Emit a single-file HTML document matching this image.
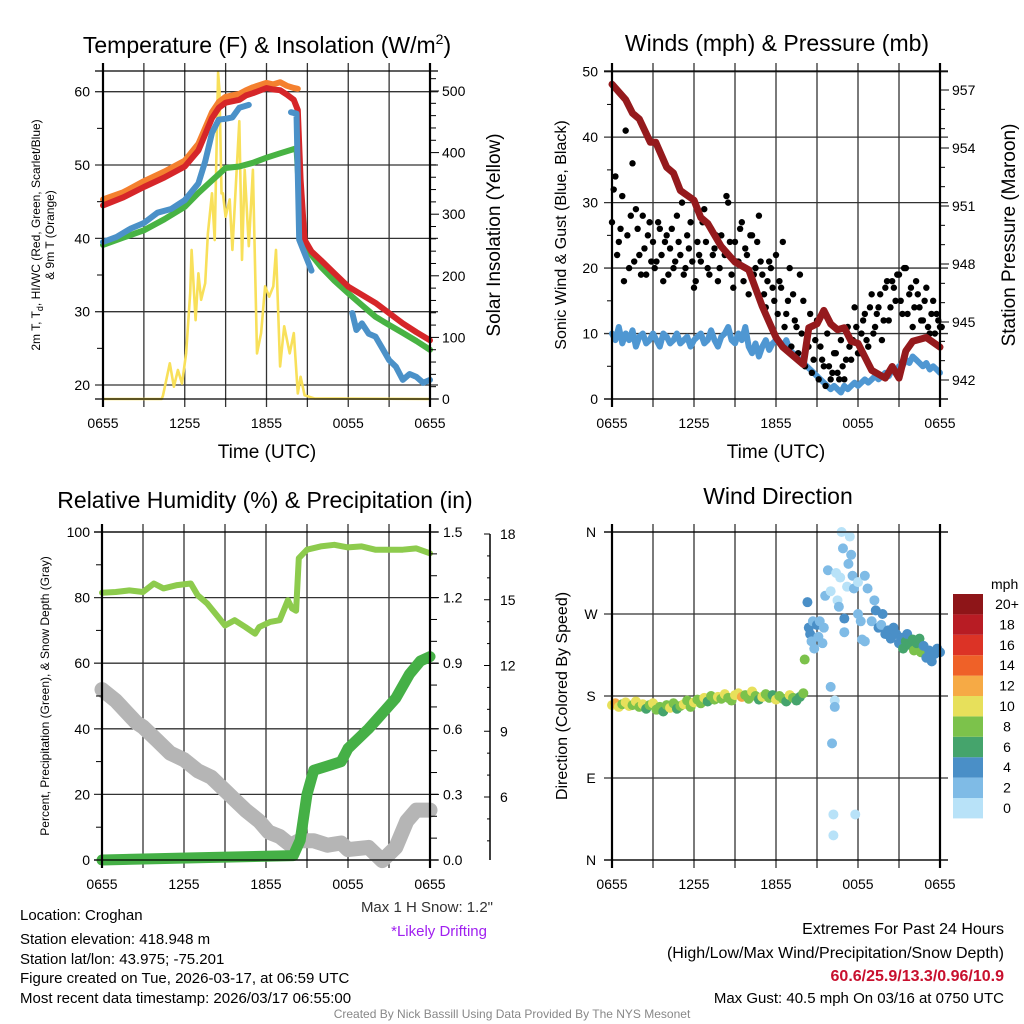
<!DOCTYPE html>
<html><head><meta charset="utf-8"><style>
html,body{margin:0;padding:0;background:#fff}
svg{display:block;font-family:"Liberation Sans",Arial,sans-serif}
</style></head><body>
<svg id="s" width="1024" height="1024" viewBox="0 0 1024 1024" xmlns="http://www.w3.org/2000/svg">
<g id="grid"></g><g id="marks"></g><g id="axes"></g>
<g font-size="23" text-anchor="middle" fill="#000">
<text x="267" y="53">Temperature (F) &amp; Insolation (W/m<tspan font-size="14" dy="-9">2</tspan><tspan dy="9">)</tspan></text>
<text x="777" y="51">Winds (mph) &amp; Pressure (mb)</text>
<text x="265" y="508">Relative Humidity (%) &amp; Precipitation (in)</text>
<text x="778" y="504">Wind Direction</text>
</g>
<g font-size="19" text-anchor="middle">
<text x="267" y="458">Time (UTC)</text>
<text x="776" y="458">Time (UTC)</text>
<text transform="translate(500,235) rotate(-90)">Solar Insolation (Yellow)</text>
<text transform="translate(1015,235) rotate(-90)">Station Pressure (Maroon)</text>
</g>
<g font-size="16" text-anchor="middle">
<text transform="translate(566,235) rotate(-90)">Sonic Wind &amp; Gust (Blue, Black)</text>
<text transform="translate(567,696) rotate(-90)">Direction (Colored By Speed)</text>
</g>
<g font-size="12" text-anchor="middle">
<text transform="translate(40,235) rotate(-90)">2m T, T<tspan font-size="9" dy="3">d</tspan><tspan dy="-3">, HI/WC (Red, Green, Scarlet/Blue)</tspan></text>
<text transform="translate(54,235) rotate(-90)">&amp; 9m T (Orange)</text>
<text transform="translate(49,696) rotate(-90)">Percent, Precipitation (Green), &amp; Snow Depth (Gray)</text>
</g>
<g font-size="15" fill="#000">
<text x="20" y="920">Location: Croghan</text>
<text x="20" y="944">Station elevation: 418.948 m</text>
<text x="20" y="964">Station lat/lon: 43.975; -75.201</text>
<text x="20" y="983">Figure created on Tue, 2026-03-17, at 06:59 UTC</text>
<text x="20" y="1003">Most recent data timestamp: 2026/03/17 06:55:00</text>
<text x="493" y="912" text-anchor="end" fill="#333">Max 1 H Snow: 1.2"</text>
<text x="487" y="936" text-anchor="end" fill="#a020f0">*Likely Drifting</text>
<text x="1004" y="934" text-anchor="end" font-size="16">Extremes For Past 24 Hours</text>
<text x="1004" y="958" text-anchor="end" font-size="16">(High/Low/Max Wind/Precipitation/Snow Depth)</text>
<text x="1004" y="981" text-anchor="end" font-size="16" font-weight="bold" fill="#c8102e">60.6/25.9/13.3/0.96/10.9</text>
<text x="1004" y="1003" text-anchor="end">Max Gust: 40.5 mph On 03/16 at 0750 UTC</text>
<text x="512" y="1018" text-anchor="middle" font-size="12" fill="#888">Created By Nick Bassill Using Data Provided By The NYS Mesonet</text>
</g>
<g id="legend"></g>
</svg>
<script>
// ---- Temperature panel data ----
const redH=[0,1.5,3,4.5,6,7,8,8.5,9,10,10.5,11,12,12.5,13,13.5,14,14.3,14.5,14.8,15.3,16,17,18,19,20,21,22,23,24];
const redT=[44.5,45.6,47,48.3,49.8,52,56.4,57.8,58.5,58.9,59.5,59.8,60.5,60.3,60.2,59.6,58.9,57.5,48,39.8,38.2,37,35.2,33.4,32.3,31.2,29.8,28.4,27.2,26.1];
const orgH=[0,1.5,3,4.5,6,7,8,8.5,9,10,10.5,11,12,12.5,13,13.5,14,14.3];
const orgT=[45.3,46.3,47.8,49.1,50.6,52.9,57.2,58.6,59.3,59.7,60.2,60.6,61.2,61.0,61.3,60.8,60.5,60.4];
const grnH=[0,1.5,3,4.5,6,7,8,9,10,11,12,13,14.2,14.4,14.6,14.8,16,17,18,19,20,21,22,23,24];
const grnT=[39.1,40.1,41.1,42.6,44.3,46.2,47.9,49.6,49.8,50.3,51,51.6,52.3,46,40.5,38.9,36.1,34.2,32.5,30.9,29.3,28.2,27.1,26,24.8];
const bluH=[0,1,2,3,4,5,6,7,7.5,8,8.5,9,9.5,10,10.7,null,13.8,14.2,14.4,15,15.3,null,18.3,18.6,19,19.5,20,20.5,21,21.5,22,22.5,23,23.5,24];
const bluT=[39.5,40.2,41.3,42.1,43.5,44,45.2,47.5,50.5,54.4,56.2,56.3,56.5,57.8,58.2,null,57.2,57,39.8,37,35.6,null,29.8,27.5,28.4,27,26.6,25,23.4,22.5,20.7,21.5,21.1,20.3,20.7];
const solH=[0,4.3,4.4,4.9,5.2,5.5,5.8,6.1,6.4,6.5,6.8,7,7.2,7.5,7.7,8,8.2,8.45,8.55,8.7,8.8,9,9.3,9.5,9.8,10,10.2,10.4,10.7,11,11.3,11.6,11.9,12.2,12.5,12.7,13,13.3,13.7,14,14.3,14.5,14.8,15.5,24];
const solW=[0,0,5,58,20,47,25,74,172,242,128,204,161,188,269,334,258,530,500,334,334,296,324,242,367,451,226,372,248,372,74,107,183,166,183,242,53,118,74,107,9,36,6,1,0];
// ---- Wind panel data ----
const wHours=[];for(let i=0;i<=96;i++)wHours.push(i*0.25);
const gusts=[27,34,24,31,41,20,36,29,22,28,19,27,24,21,26,18,25,23,20,28,22,19,25,27,17,24,21,29,20,26,23,18,25,22,30,19,24,21,27,23,16,25,20,28,19,14,21,17,22,18,24,13,20,16,11,19,15,9,13,6,12,8,5,10,3,7,4,9,3,11,6,14,7,10,13,8,16,11,14,9,17,12,18,15,19,13,20,16,11,18,14,12,17,10,15,13,11];
const gusts2=[32,22,26,18,25,28,21,26,19,23,25,21,20,27,22,24,19,26,21,24,30,20,23,21,18,22,27,24,19,22,25,20,23,31,24,17,21,26,18,22,25,19,24,21,16,18,20,15,13,17,11,15,8,12,7,10,5,8,4,9,3,6,2,5,4,7,3,5,6,8,9,11,7,12,9,14,10,13,16,12,18,14,17,19,15,20,13,17,14,16,12,15,11,13,10,12,11];
const wind=[10,9,11,8.5,10,9,10.5,8,9.5,10,8.5,9,10,9,8,10,9.5,8.5,9,10,8.5,9,9.5,8,9,9.5,10,8.5,9,10.5,9,8,9.5,10,11,9,8.5,10,9,11,8,7,8.5,6.5,8,9,7.5,8.5,9,8.5,8,9,7.5,7,6.5,6,5.5,5,4.5,4,3.5,3,2.5,2,1.5,2,1.5,1,2,1.5,2,2.5,2,2.5,3,2.5,3,3.5,3,3.5,4,3.5,4.5,4,5,5,6,5.5,6.5,6,5.5,5,5.5,4.5,5,4.5,4];
const presH=[0,1,1.5,2,2.8,3.2,4,4.5,5,6,6.5,7,8,9,10,11,12,12.5,13,14,14.4,15,15.5,16,16.5,17,17.5,18,19,20,20.5,21,21.5,22,23,24];
const pres=[957.3,956.5,955.8,955.5,954.3,954.3,953.0,952.7,951.8,951.3,950.4,950.1,948.9,948.1,947.7,945.8,944.2,943.7,943.4,942.8,944.7,944.9,945.6,944.9,944.6,944.7,944.0,943.9,942.5,942.1,942.7,942.1,943.5,944.0,944.2,943.7];
// ---- RH panel data ----
const rhH=[0,1,2,3,3.8,4.5,5.5,6.5,7,7.7,8.5,9,9.7,10.5,11.2,11.5,12.3,13,13.6,13.9,14.2,14.4,15,16,17,18,19,20,21,22,23,24];
const rh=[81.5,81.7,82.2,81.7,84.3,82.8,83.8,84.3,80.7,78.2,74.1,71.5,73.1,71,69,71,72.6,73.1,79.2,76.7,76,92,94.6,95.6,96.1,95.3,95.6,94.6,94.6,94.6,95,93.5];
const prH=[0,7,14,14.5,14.6,15,15.5,16.5,17.5,18,18.5,19.5,20.5,21.5,22.5,23.3,24];
const precip=[0,0.01,0.02,0.09,0.13,0.3,0.41,0.43,0.45,0.51,0.54,0.6,0.67,0.74,0.85,0.91,0.93];
const snH=[0,1,2.5,3,4,5,6,7,8,9,10,10.5,11.5,12.2,13,13.8,14.4,15.5,16.5,17.5,18,19.5,20.5,21.5,22.3,23,24];
const snow=[10.9,10.4,9.4,9.2,8.6,8.0,7.7,7.2,6.9,6.3,5.7,5.4,4.9,4.4,4.2,3.8,4.0,4.0,3.8,3.9,3.6,3.7,3.1,3.7,4.9,5.4,5.4];
// ---- Direction panel data ----
const dirH=[];for(let i=0;i<=56;i++)dirH.push(i*0.25);
const dirDeg=[170,172,168,171,173,169,170,174,168,171,166,170,172,165,168,163,170,167,172,166,169,171,175,168,173,176,172,178,174,180,176,179,177,182,178,175,181,183,179,181,177,185,180,176,179,182,178,181,176,180,177,174,181,178,175,179,183];
const dirSpd=[11,12,10,9,11,10,8,10,9,11,7,9,10,9,8,6,9,10,8,7,9,10,8,9,11,8,9,10,7,9,8,10,9,11,8,9,10,10,12,9,8,11,9,6,10,8,9,7,10,9,8,7,10,8,7,6,8];
const lateH=[14.1,14.3,14.4,14.5,14.6,14.7,14.8,15.0,15.1,15.2,15.4,15.5,15.6,15.8,16.0,16.0,16.1,16.2,16.2,16.3,16.3,16.4,16.5,16.6,16.7,16.8,16.9,17.0,17.0,17.2,17.3,17.4,17.5,17.6,17.7,17.8,18.0,18.0,18.2,18.3,18.5,18.5,18.7,19.0,19.2,19.3,19.5,19.7,19.8,20.0,20.2,20.4,20.6,20.8,21.0,21.2,21.3,21.5,21.6,21.8,22.0,22.1,22.3,22.5,22.6,22.8,23.0,23.2,23.4,23.6,23.8,24.0];
const lateDeg=[220,283,255,248,240,262,232,258,245,262,238,255,290,318,295,190,128,50,27,175,168,315,285,278,310,360,342,265,250,300,325,355,335,312,298,50,305,270,262,242,240,312,298,262,285,274,255,258,270,248,252,243,255,248,238,244,232,240,248,236,242,230,238,243,228,235,222,230,218,226,232,228];
const lateSpd=[8,4,4,4,3,2,3,4,2,3,2,3,2,3,1,3,3,1,1,1,3,1,1,2,1,1,2,4,2,1,2,1,3,3,3,1,1,2,2,2,2,3,2,3,3,4,4,3,4,4,4,4,4,4,4,5,7,6,5,6,7,8,6,6,8,4,4,4,4,4,4,4];
const binColors=["#b8e2f8","#7fbbe6","#4a8fc7","#45a46c","#7cc24b","#e7e05b","#f6aa45","#ef6128","#dc3326","#b81c24","#8e1518"];
const binLabels=["0","2","4","6","8","10","12","14","16","18","20+"];
const xTickLabels=["0655","1255","1855","0055","0655"];

const NS="http://www.w3.org/2000/svg";
function mk(tag,attrs,parent){const e=document.createElementNS(NS,tag);for(const k in attrs)e.setAttribute(k,attrs[k]);(parent||document.getElementById('marks')).appendChild(e);return e;}
function lin(d0,d1,r0,r1){return v=>r0+(v-d0)/(d1-d0)*(r1-r0);}
const P1={l:103,r:430,t:71,b:399},P2={l:612,r:940,t:71,b:399},P3={l:102,r:430,t:532,b:860},P4={l:612,r:940,t:532,b:860};
function xs(P){return lin(0,24,P.l,P.r);}
const gridG=document.getElementById('grid'),axG=document.getElementById('axes');

function frame(P,hVals,name){
  for(let i=0;i<=8;i++){const x=P.l+i*(P.r-P.l)/8;
    const ln=mk('line',{x1:x,x2:x,y1:P.t-8,y2:P.b+8,stroke:'#333','stroke-width':1.3},gridG);
    }
  hVals.forEach(y=>{const ln=mk('line',{x1:P.l-8,x2:P.r+8,y1:y,y2:y,stroke:'#333','stroke-width':1.3},gridG);
    });
  [P.l,P.r].forEach(x=>{const ln=mk('line',{x1:x,x2:x,y1:P.t-8,y2:P.b+8,stroke:'#000','stroke-width':2.2},axG);
    });
  [P.t,P.b].forEach(y=>{const ln=mk('line',{x1:P.l-8,x2:P.r+8,y1:y,y2:y,stroke:'#000','stroke-width':1.3},axG);
    });
  xTickLabels.forEach((t,i)=>{const x=P.l+i*(P.r-P.l)/4;
    const tx=mk('text',{x:x,y:P.b+29,'font-size':14,'text-anchor':'middle'},axG);tx.textContent=t;
    });
}
function ylabels(vals,ys,x,anchor,name){vals.forEach((v,i)=>{const t=mk('text',{x:x,y:ys[i]+5,'font-size':14,'text-anchor':anchor},axG);t.textContent=v;
  });}
function minor(x0,x1,ys){ys.forEach(y=>mk('line',{x1:x0,x2:x1,y1:y,y2:y,stroke:'#000','stroke-width':1},axG));}
function line(H,V,fx,fy,color,w,name){let d='',pen=false;
  for(let i=0;i<H.length;i++){if(H[i]===null||V[i]===null){pen=false;continue;}d+=(pen?'L':'M')+fx(H[i]).toFixed(1)+' '+fy(V[i]).toFixed(1);pen=true;}
  const p=mk('path',{d:d,fill:'none',stroke:color,'stroke-width':w,'stroke-linejoin':'round','stroke-linecap':'round'});
  return p;}
function dots(H,V,fx,fy,color,r,name){H.forEach((h,i)=>{const c=mk('circle',{cx:fx(h),cy:fy(V[i]),r:r,fill:color});
  });}

// Panel 1
const x1=xs(P1),yT=lin(20,60,385,91.7),yS=lin(0,500,399,91);
frame(P1,[20,30,40,50,60].map(yT),'temp');
ylabels([20,30,40,50,60],[20,30,40,50,60].map(yT),90,'end','temp-y-tick-label');
ylabels([0,100,200,300,400,500],[0,100,200,300,400,500].map(yS),442,'start','insolation-tick-label');
minor(P1.r,P1.r+6,[20,40,60,80,120,140,160,180,220,240,260,280,320,340,360,380,420,440,460,480,520].map(yS));
minor(P1.r,P1.r+9,[0,100,200,300,400,500].map(yS));
minor(P1.l-6,P1.l,[25,35,45,55].map(yT));
line(solH,solW,x1,yS,'#f8e05a',2.6,'insolation-line');
line(grnH,grnT,x1,yT,'#48b343',6,'dewpoint-line');
line(orgH,orgT,x1,yT,'#f4802f',6,'temp-9m-line');
line(redH,redT,x1,yT,'#d62629',6,'temp-2m-line');
line(bluH,bluT,x1,yT,'#4b91c8',6,'heat-index-windchill-line');

// Panel 2
const x2=xs(P2),yW=lin(0,50,399,71.7),yP=lin(942,957,380,90);
frame(P2,[0,10,20,30,40,50].map(yW),'wind');
ylabels([0,10,20,30,40,50],[0,10,20,30,40,50].map(yW),598,'end','wind-y-tick-label');
ylabels([942,945,948,951,954,957],[942,945,948,951,954,957].map(yP),952,'start','pressure-tick-label');
minor(P2.r,P2.r+9,[942,945,948,951,954,957].map(yP));
minor(P2.r,P2.r+5,[943,944,946,947,949,950,952,953,955,956].map(yP));
minor(P2.l-5,P2.l,[5,15,25,35,45].map(yW));
line(wHours,wind,x2,yW,'#4f97d2',6,'sonic-wind-line');
dots(wHours,gusts,x2,yW,'#000',3.2,'gust-point');
dots(wHours.map(h=>h+0.125),gusts2,x2,yW,'#000',3.2,'gust-point');
line(presH,pres,x2,yP,'#951a1d',7,'pressure-line');

// Panel 3
const x3=xs(P3),yR=lin(0,100,860,532),yPr=lin(0,1.5,860,532),ySn=lin(6,18,797,534);
frame(P3,[0,20,40,60,80,100].map(yR),'rh');
ylabels([0,20,40,60,80,100],[0,20,40,60,80,100].map(yR),90,'end','rh-y-tick-label');
ylabels(['0.0','0.3','0.6','0.9','1.2','1.5'],[0,0.3,0.6,0.9,1.2,1.5].map(yPr),443,'start','precip-tick-label');
minor(P3.r,P3.r+7,[0.1,0.2,0.4,0.5,0.7,0.8,1.0,1.1,1.3,1.4].map(yPr));
minor(P3.r,P3.r+9,[0,0.3,0.6,0.9,1.2,1.5].map(yPr));
minor(P3.l-6,P3.l,[10,30,50,70,90].map(yR));
mk('line',{x1:490,x2:490,y1:534,y2:860,stroke:'#000','stroke-width':1.5},axG);
minor(484,490,[6,9,12,15,18].map(ySn));
minor(487,490,[4,5,7,8,10,11,13,14,16,17].map(ySn));
ylabels([6,9,12,15,18],[6,9,12,15,18].map(ySn),500,'start','snow-tick-label');
line(snH,snow,x3,ySn,'#b5b5b5',15,'snow-depth-line');
line(rhH,rh,x3,yR,'#8dcb4d',6,'rh-line');
line(prH,precip,x3,yPr,'#45b046',11,'precip-line');

// Panel 4
const x4=xs(P4),yD=lin(0,360,860,532);
frame(P4,[0,90,180,270,360].map(yD),'dir');
ylabels(['N','E','S','W','N'],[0,90,180,270,360].map(yD),591,'middle','dir-y-tick-label');
function dirDots(H,D,S){H.forEach((h,i)=>{const b=Math.min(10,Math.floor(S[i]/2));
  const c=mk('circle',{cx:x4(h),cy:yD(D[i]),r:5,fill:binColors[b]});
  });}
dirDots(dirH,dirDeg,dirSpd);
dirDots(lateH,lateDeg,lateSpd);

// Legend
const lg=document.getElementById('legend');
const mt=mk('text',{x:991,y:589,'font-size':14},lg);mt.textContent='mph';
binColors.forEach((c,i)=>{const y=798-i*20.4;
  const r=mk('rect',{x:953,y:y,width:30,height:20.4,fill:c},lg);
  
  const t=mk('text',{x:1007,y:y+15,'font-size':14,'text-anchor':'middle'},lg);t.textContent=binLabels[i];
  });
</script>
</body></html>
